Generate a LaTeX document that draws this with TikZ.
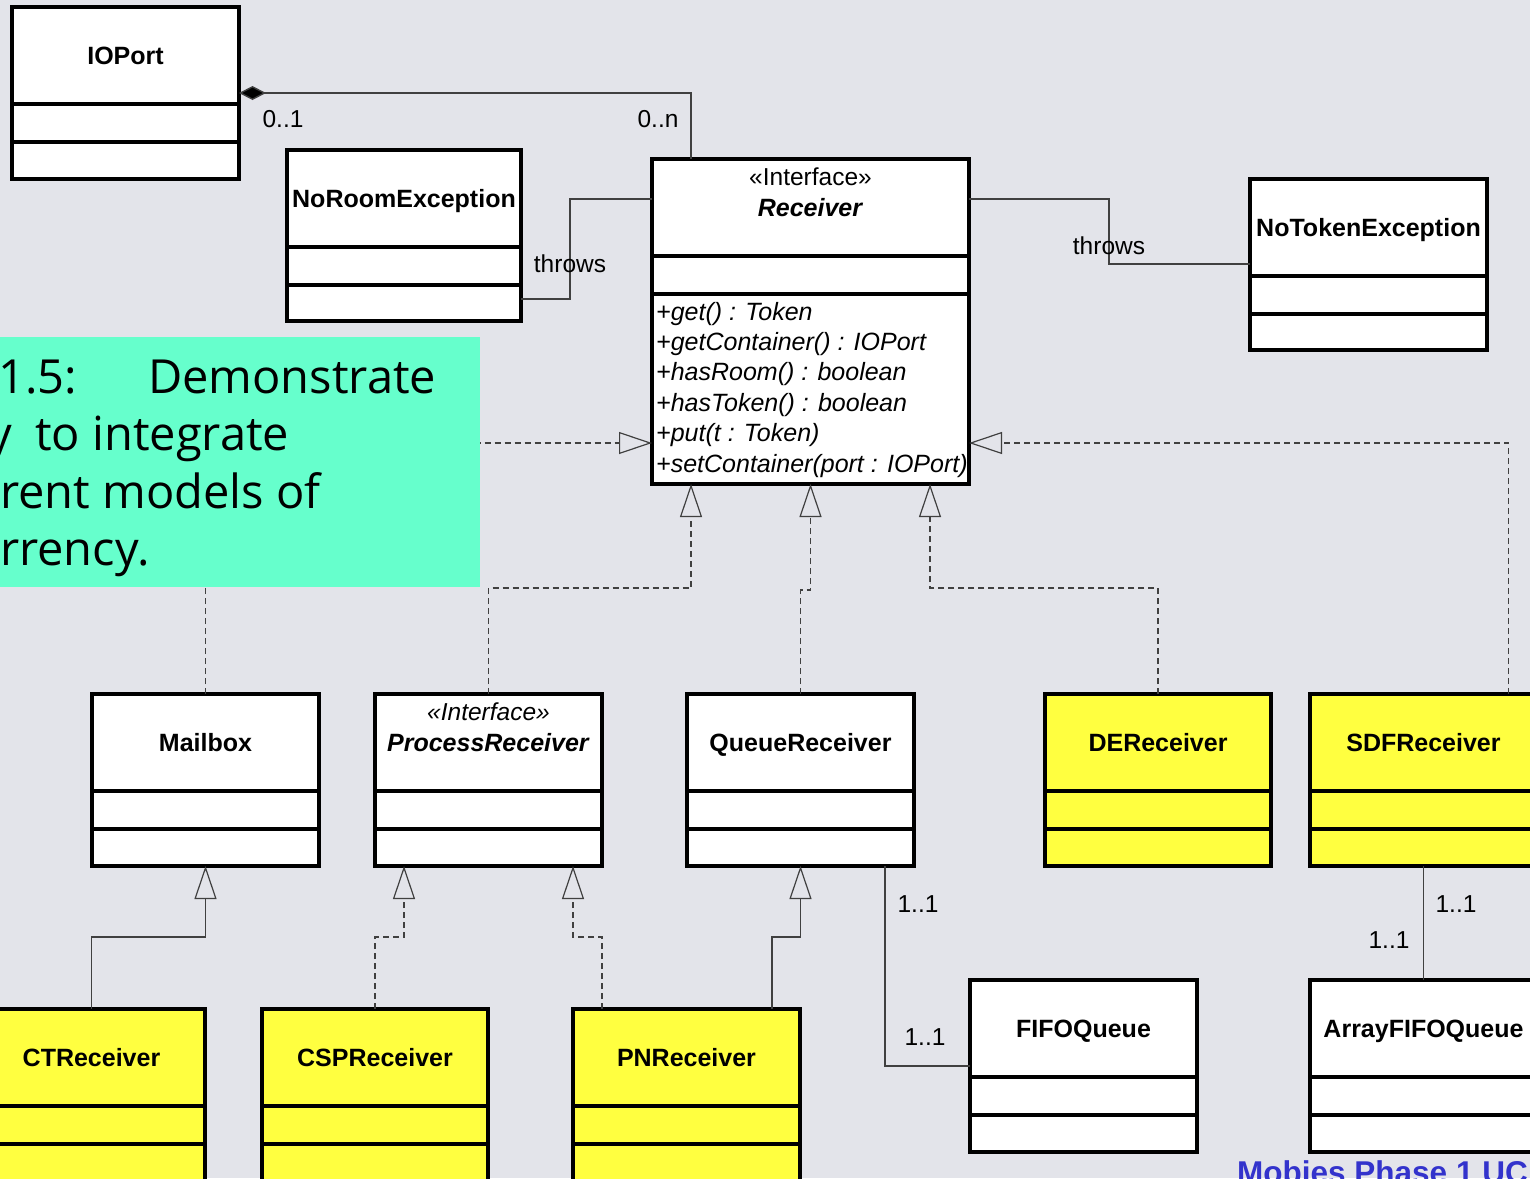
\documentclass[tikz,border=0pt]{standalone}
\usepackage{fontspec}
\setmainfont{Liberation Sans}
\newfontfamily\notefont{Open Sans}
\usetikzlibrary{arrows.meta,positioning}
\definecolor{bg}{RGB}{227,228,234}
\definecolor{notegreen}{RGB}{102,255,204}
\definecolor{domainyellow}{RGB}{255,255,64}
\definecolor{footblue}{RGB}{51,51,204}
\definecolor{linkgray}{RGB}{64,64,64}

% box with name and two empty compartments
\newcommand\classbox[6]{%
  \node[classbody, fill=#5, minimum width=#3pt, minimum height=#4pt, anchor=north west] (#1) at (#2) {};
  \draw[divider] ([yshift=-97pt]#1.north west) -- ([yshift=-97pt]#1.north east)
                 ([yshift=-135pt]#1.north west) -- ([yshift=-135pt]#1.north east);
  \node[classname] at ([yshift=-57pt]#1.north) {#6};}

\begin{document}
\begin{tikzpicture}[x=1pt,y=-1pt,
    classbody/.style={draw, line width=3.2pt, outer sep=0pt, inner sep=0pt},
    divider/.style={line width=3.2pt},
    classname/.style={font=\fontsize{25}{30}\selectfont\bfseries, inner sep=0pt, anchor=base},
    plain/.style={font=\fontsize{24.5}{30}\selectfont, inner sep=0pt},
    method/.style={font=\fontsize{25}{30}\selectfont\itshape, inner sep=0pt, anchor=base west},
    notetext/.style={font=\notefont\fontsize{47}{57}\selectfont, inner sep=0pt, anchor=base west},
    assoc/.style={draw=linkgray, line width=1.4pt},
    compose/.style={assoc, {Diamond[length=27pt, width=14pt, fill=black]}-},
    inherit/.style={assoc, -{Triangle[open, length=33pt, width=22pt, line width=1.2pt]}},
    realize/.style={inherit, dash pattern=on 6pt off 4pt}]
  \clip (0,0) rectangle (1530,1178);
  \fill[bg] (0,0) rectangle (1530,1178);

  % classes
  \classbox{ioport}{12,7}{227}{172}{white}{IOPort}
  \classbox{noroom}{287,150}{234}{171}{white}{NoRoomException}
  \classbox{receiver}{652,159}{317}{325}{white}{\textit{Receiver}}
  \node[plain] at ([yshift=-18pt]receiver.north) {«Interface»};
  \foreach \op [count=\i] in {+get() : Token, +getContainer() : IOPort, +hasRoom() : boolean,
      +hasToken() : boolean, +put(t : Token), +setContainer(port : IOPort)}
    \node[method] at (656,{289.6+30.4*\i}) {\op};
  \classbox{notoken}{1250,179}{237}{171}{white}{NoTokenException}

  \classbox{mailbox}{92,694}{227}{172}{white}{Mailbox}
  \classbox{procrecv}{375,694}{227}{172}{white}{\textit{ProcessReceiver}}
  \node[plain, font=\fontsize{24.5}{30}\selectfont\itshape] at ([yshift=-18pt]procrecv.north) {«Interface»};
  \classbox{queue}{687,694}{227}{172}{white}{QueueReceiver}
  \classbox{derecv}{1045,694}{226}{172}{domainyellow}{DEReceiver}
  \classbox{sdfrecv}{1310,694}{227}{172}{domainyellow}{SDFReceiver}

  \classbox{ctrecv}{-22,1009}{227}{172}{domainyellow}{CTReceiver}
  \classbox{csprecv}{262,1009}{226}{172}{domainyellow}{CSPReceiver}
  \classbox{pnrecv}{573,1009}{227}{172}{domainyellow}{PNReceiver}
  \classbox{fifo}{970,980}{227}{172}{white}{FIFOQueue}
  \classbox{arrayfifo}{1310,980}{227}{172}{white}{ArrayFIFOQueue}

  % associations
  \draw[compose] (ioport.east) -| ([xshift=39pt]receiver.north west);
  \node[plain] at (283,119) {0..1};
  \node[plain] at (658,119) {0..n};
  \draw[assoc] ([yshift=22pt]noroom.south east) -- ++(49pt,0) |- ([yshift=-40pt]receiver.north west);
  \node[plain] at (570,264) {throws};
  \draw[assoc] ([yshift=-40pt]receiver.north east) -- ++(140pt,0) |- ([yshift=-85pt]notoken.north west);
  \node[plain] at (1109,246) {throws};
  \draw[assoc] ([xshift=-29pt]queue.south east) |- ([yshift=-86pt]fifo.north west);
  \node[plain] at (918,904) {1..1};
  \node[plain] at (925,1037) {1..1};
  \draw[assoc] (sdfrecv.south) -- (arrayfifo.north);
  \node[plain] at (1456,904) {1..1};
  \node[plain] at (1389,940) {1..1};

  % realizations and generalizations
  \draw[realize] (mailbox.north) |- ([yshift=-284pt]receiver.north west);
  \draw[realize] (procrecv.north) -- ++(0,106pt) -| ([xshift=39pt]receiver.south west);
  \draw[realize] (queue.north) -- ++(0,104pt) -| (receiver.south);
  \draw[realize] (derecv.north) -- ++(0,106pt) -| ([xshift=-39pt]receiver.south east);
  \draw[realize] ([xshift=85pt]sdfrecv.north) |- ([yshift=-284pt]receiver.north east);
  \draw[inherit] (ctrecv.north) -- ++(0,72pt) -| (mailbox.south);
  \draw[realize] (csprecv.north) -- ++(0,72pt) -| ([xshift=29pt]procrecv.south west);
  \draw[realize] ([xshift=29pt]pnrecv.north west) -- ++(0,72pt) -| ([xshift=-29pt]procrecv.south east);
  \draw[inherit] ([xshift=-28pt]pnrecv.north east) -- ++(0,72pt) -| (queue.south);

  % note
  \fill[notegreen] (0,337) rectangle (480,587);
  \node[notetext] at (-2,393) {1.5:};
  \node[notetext] at (148,393) {Demonstrate};
  \node[notetext] at (-12,450) {y};
  \node[notetext] at (35,450) {to integrate};
  \node[notetext] at (0,508) {rent models of};
  \node[notetext] at (0,565) {rrency.};

  \node[font=\fontsize{31.5}{36}\selectfont\bfseries, text=footblue, inner sep=0pt, anchor=base west] at (1237,1183) {Mobies Phase 1 UC};
\end{tikzpicture}
\end{document}
